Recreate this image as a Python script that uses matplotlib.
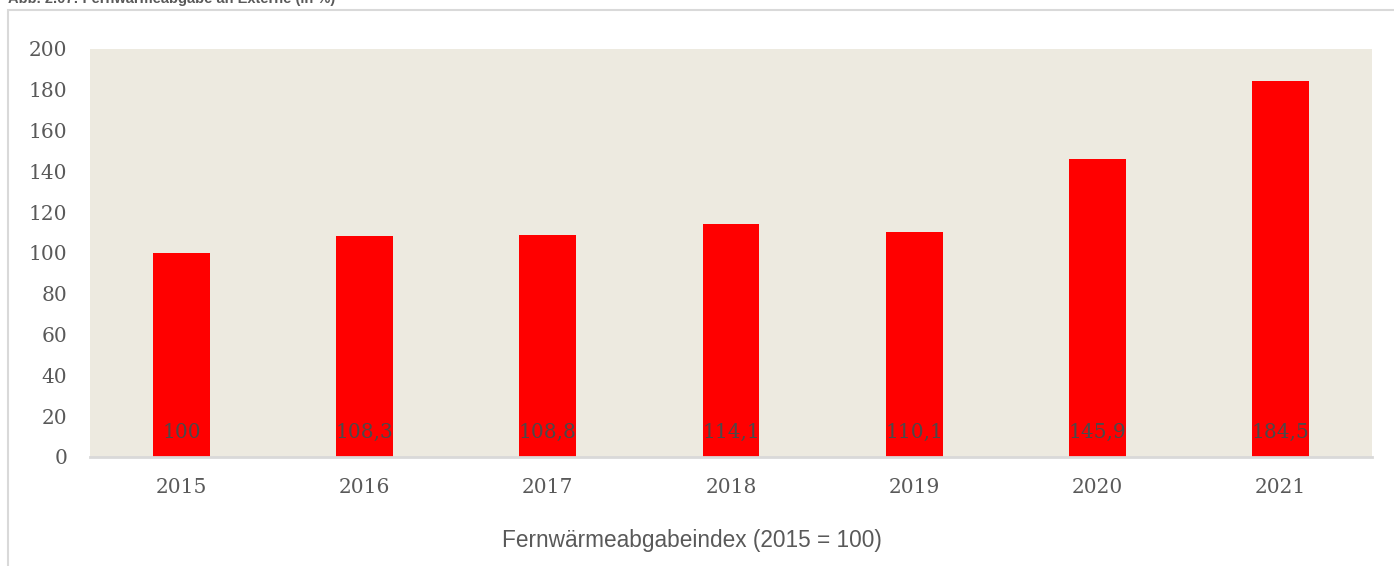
# -*- coding: utf-8 -*-
"""
    Abb. 2.07: Fernwärmeabgabe an Externe (Index 2015 = 100)
"""
import numpy as np
import matplotlib
matplotlib.use('Agg')
import matplotlib.pyplot as plt
from matplotlib.patches import Rectangle

# Daten
jahre = ['2015', '2016', '2017', '2018', '2019', '2020', '2021']
index_werte = [100, 108.3, 108.8, 114.1, 110.1, 145.9, 184.5]
wert_labels = ['100', '108,3', '108,8', '114,1', '110,1', '145,9', '184,5']
y_ticks = [0, 20, 40, 60, 80, 100, 120, 140, 160, 180, 200]

titel = 'Abb. 2.07: Fernwärmeabgabe an Externe (in %)'
x_titel = 'Fernwärmeabgabeindex (2015 = 100)'


def main():
    fig = plt.figure(figsize=(13.94, 5.66), dpi=100)

    # äußerer Rahmen (rechts/unten abgeschnitten)
    rahmen = Rectangle((8 / 1394, -0.1), 1.2, (566 - 10) / 566 + 0.1,
                       transform=fig.transFigure, fill=False,
                       edgecolor='#d9d9d9', linewidth=1.5, clip_on=False)
    fig.patches.append(rahmen)

    # abgeschnittener Titel oben
    fig.text(8 / 1394, 1 - 3 / 566, titel, fontsize=10.5, fontweight='bold',
             family='Liberation Sans', color='#595959', ha='left', va='baseline')

    ax = fig.add_axes([90 / 1394, 1 - 457 / 566, (1372 - 90) / 1394, (457 - 49) / 566])
    ax.set_facecolor('#EDEAE0')

    x = np.arange(len(jahre))
    ax.bar(x, index_werte, width=0.31, color='#FF0000', zorder=2)

    for xi, lab in zip(x, wert_labels):
        ax.text(xi, 12, lab, ha='center', va='center', fontsize=14.5,
                family='DejaVu Serif', color='#4a4a4a', zorder=3)

    ax.set_xlim(-0.5, len(jahre) - 0.5)
    ax.set_ylim(0, 200)
    ax.set_yticks(y_ticks)
    ax.set_xticks(x)
    ax.set_xticklabels(jahre)

    for lab in ax.get_xticklabels() + ax.get_yticklabels():
        lab.set_family('DejaVu Serif')
        lab.set_fontsize(14.5)
        lab.set_color('#595959')
    ax.tick_params(axis='both', length=0)
    ax.tick_params(axis='y', pad=16.5)
    ax.tick_params(axis='x', pad=15)

    for s in ['top', 'right', 'left']:
        ax.spines[s].set_visible(False)
    ax.spines['bottom'].set_color('#d9d9d9')
    ax.spines['bottom'].set_linewidth(2)

    fig.text(692 / 1394, 1 - 541 / 566, x_titel, ha='center', va='center',
             fontsize=16.3, family='Liberation Sans', color='#595959')

    fig.savefig('out.png', dpi=100)


if __name__ == '__main__':
    main()
